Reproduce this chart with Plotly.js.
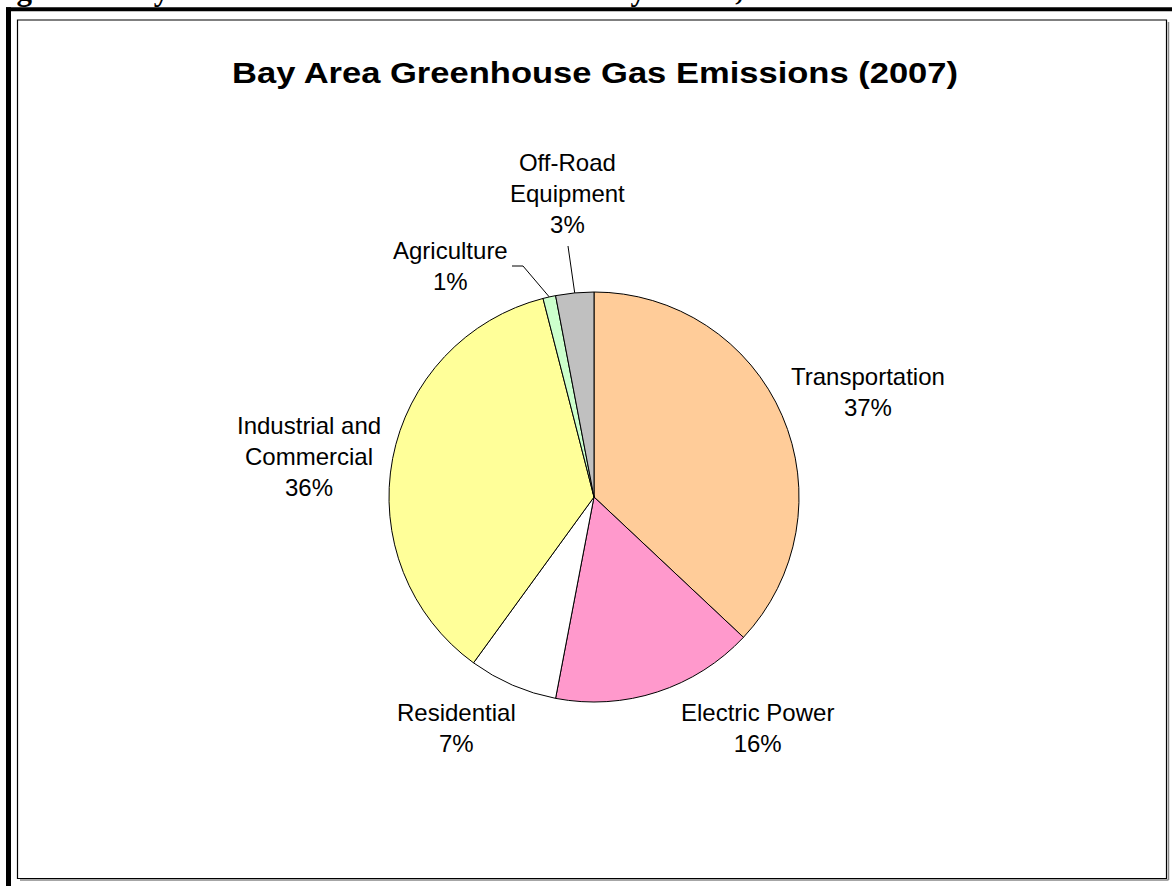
<!DOCTYPE html>
<html>
<head>
<meta charset="utf-8">
<script src="https://cdn.plot.ly/plotly-3.0.1.min.js"></script>
<style>
  html, body { margin: 0; padding: 0; background: #ffffff; overflow: hidden; }
  #chart { width: 1172px; height: 886px; }
</style>
</head>
<body>
<div id="chart"></div>
<script>
// ---------------- DATA ----------------
const categories = ['Transportation', 'Electric Power', 'Residential', 'Industrial and Commercial', 'Agriculture', 'Off-Road Equipment'];
const labelLines = ['Transportation', 'Electric Power', 'Residential', 'Industrial and<br>Commercial', 'Agriculture', 'Off-Road<br>Equipment'];
const shares = [37, 16, 7, 36, 1, 3];
const sliceColors = ['#FFCC99', '#FF99CC', '#FFFFFF', '#FFFF99', '#CCFFCC', '#C0C0C0'];
const chartTitle = 'Bay Area Greenhouse Gas Emissions (2007)';
const figureHeading = 'Figure 3: Bay Area Greenhouse Gas Emissions by Sector, 2007';

// ---------------- LAYOUT HELPERS ----------------
const W = 1172, H = 886;
const px = x => x / W;
const py = y => 1 - y / H;

const cx = 594, cy = 497, R = 205;            // pie placement (pixels)
const labelPos = [[868, 392], [757, 728], [456, 728], [309, 456], [450, 266], [567, 194]];
// leader line start points (label side) for small slices
const leaders = { 4: [[512, 266], [523, 266]], 5: [[568, 246]] };

const total = shares.reduce((a, b) => a + b, 0);
let cum = 0;
const midAngles = shares.map(v => { const m = (cum + v / 2) / total * 2 * Math.PI; cum += v; return m; });

const annotations = categories.map((c, i) => ({
  text: labelLines[i] + '<br>' + shares[i] + '%',
  x: px(labelPos[i][0]), y: py(labelPos[i][1]),
  xref: 'paper', yref: 'paper', xanchor: 'center', yanchor: 'middle',
  showarrow: false, align: 'center',
  font: { family: 'Arial, "Liberation Sans", sans-serif', size: 24, color: '#000000' }
}));

annotations.push({
  text: '<b>' + figureHeading + '</b>',
  x: px(-13), y: 1, xref: 'paper', yref: 'paper', xanchor: 'left', yanchor: 'bottom',
  yshift: -9, showarrow: false,
  font: { family: '"Times New Roman", "Liberation Serif", serif', size: 31, color: '#000000' }
});

const shapes = [
  // page frame
  { type: 'line', xref: 'paper', yref: 'paper', x0: px(6), x1: px(1172), y0: py(9.2), y1: py(9.2), line: { color: '#000', width: 4 } },
  { type: 'line', xref: 'paper', yref: 'paper', x0: px(8.5), x1: px(8.5), y0: py(7.2), y1: py(886), line: { color: '#000', width: 5 } },
  // chart area border + shadow
  { type: 'line', xref: 'paper', yref: 'paper', x0: px(20), x1: px(1168.5), y0: py(880), y1: py(880), line: { color: '#888', width: 1.5 } },
  { type: 'line', xref: 'paper', yref: 'paper', x0: px(1168.5), x1: px(1168.5), y0: py(22), y1: py(880), line: { color: '#888', width: 1.5 } },
  { type: 'rect', xref: 'paper', yref: 'paper', x0: px(17.5), x1: px(1166.5), y0: py(20), y1: py(878.5), line: { color: '#000', width: 1.2 } }
];

// leader lines from label to slice rim (rim point derived from slice angle)
Object.keys(leaders).forEach(k => {
  const i = +k;
  const a = midAngles[i];
  const rim = [cx + R * Math.sin(a), cy - R * Math.cos(a)];
  const pts = leaders[i].concat([rim]);
  for (let j = 0; j < pts.length - 1; j++) {
    shapes.push({ type: 'line', xref: 'paper', yref: 'paper',
      x0: px(pts[j][0]), y0: py(pts[j][1]), x1: px(pts[j + 1][0]), y1: py(pts[j + 1][1]),
      line: { color: '#000', width: 1 } });
  }
});

const data = [{
  type: 'pie',
  labels: categories,
  values: shares,
  sort: false,
  direction: 'clockwise',
  rotation: 0,
  textinfo: 'none',
  hoverinfo: 'none',
  marker: { colors: sliceColors, line: { color: '#000000', width: 1 } },
  domain: { x: [px(cx - R), px(cx + R)], y: [py(cy + R), py(cy - R)] },
  showlegend: false
}];

const layout = {
  width: W, height: H,
  margin: { l: 0, r: 0, t: 0, b: 0, pad: 0 },
  paper_bgcolor: '#ffffff', plot_bgcolor: '#ffffff',
  showlegend: false,
  title: {
    text: '<b>' + chartTitle + '</b>',
    x: px(595), xanchor: 'center', xref: 'paper',
    y: py(73), yanchor: 'middle', yref: 'paper',
    font: { family: 'Arial, "Liberation Sans", sans-serif', size: 29, color: '#000000' }
  },
  annotations: annotations,
  shapes: shapes
};

Plotly.newPlot('chart', data, layout, { staticPlot: true, displayModeBar: false }).then(() => {
  const t = document.querySelector('.gtitle');
  if (t) { t.setAttribute('textLength', '726'); t.setAttribute('lengthAdjust', 'spacingAndGlyphs'); }
});
</script>
</body>
</html>
